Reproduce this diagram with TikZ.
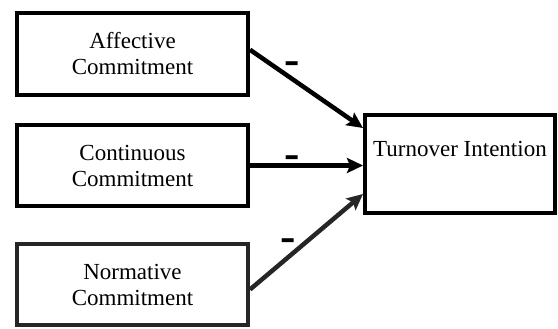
\documentclass[tikz,border=0pt]{standalone}
\usepackage{fontspec}
\setmainfont{Liberation Serif}
\usetikzlibrary{positioning, arrows.meta}

\tikzset{
  factor/.style={draw, line width=4pt, minimum width=231pt, minimum height=82pt,
    align=center, inner sep=0pt, font=\fontsize{23}{26}\selectfont},
  effect/.style={line width=4.5pt, -{Stealth[length=16pt,width=15pt,inset=3pt]}},
  sign/.style={inner sep=0pt, font=\fontsize{46}{46}\selectfont\bfseries}
}

\begin{document}
\begin{tikzpicture}[x=1pt, y=-1pt]
                \useasboundingbox (0,0) rectangle (558,329);
                % predictors
                \node[factor] (aff) at (132.5,53.75) {Affective\\Commitment};
                \node[factor, minimum height=81pt] (con) at (132.5,165.5) {Continuous\\Commitment};
                \node[factor, minimum height=81pt, draw=black!85] (nor) at (132.5,284.5) {Normative\\Commitment};
                % outcome
                \node[factor, minimum width=190pt, minimum height=98pt,
                  label={[anchor=north, inner sep=0pt, yshift=-28pt, font=\fontsize{23}{26}\selectfont]north:Turnover Intention}] (ti) at (460,164) {};
                % paths
                \draw[effect] ([yshift=4pt]aff.east) -- ([yshift=36pt]ti.west) node[sign, pos=.37, yshift=11pt] {-};
                \draw[effect] (con.east) -- (con.east -| ti.west) node[sign, pos=.37, yshift=3pt] {-};
                \draw[effect, draw=black!85] ([yshift=-5pt]nor.east) -- ([yshift=-30pt]ti.west) node[sign, pos=.34, yshift=12pt] {-};
            \end{tikzpicture}
\end{document}
